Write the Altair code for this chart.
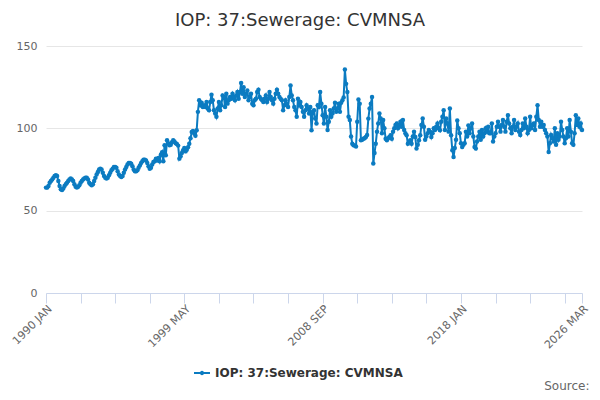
import altair as alt
import pandas as pd

series_name = "IOP: 37:Sewerage: CVMNSA"
month_names = ["JAN", "FEB", "MAR", "APR", "MAY", "JUN",
               "JUL", "AUG", "SEP", "OCT", "NOV", "DEC"]

# monthly index values, one row per year
values_1990s = [
    64, 64, 65, 67, 68, 69, 70, 71, 71.5, 71, 68, 65,
    63, 62.5, 63.5, 65, 66, 67, 68, 69, 69.5, 69, 68, 66,
    64.5, 64, 64.5, 65.5, 67, 68, 69, 69.5, 70, 70, 69, 67,
    66, 65.5, 66, 68, 70, 72, 73.5, 75, 75.5, 75, 73, 71,
    70, 69.5, 70, 71.5, 73, 74.5, 75.5, 76.5, 76.5, 76, 74, 72,
    71, 70.5, 71, 73, 75, 76.5, 78, 79, 79, 78.5, 77, 75,
    74, 74, 74.5, 76, 77.5, 79, 80, 81, 81, 80.5, 79, 77,
    75.5, 76, 78, 79.5, 80, 81.5, 80.5, 82, 80, 84, 85.5, 80,
    89.7, 83.6, 92.7, 91, 89.7, 90, 91.5, 92.7, 92, 91, 90.5, 89.5,
    81.6, 83, 85, 86.7, 88, 86, 87, 88.5, 90.7, 94, 97.8, 98.4,
]
values_2000s = [
    96.8, 95.5, 98.8, 110, 117, 114, 115.5, 113, 114, 113, 116, 112,
    111, 116, 120.4, 117, 111, 109, 107, 112, 116, 111, 114, 120,
    119, 113, 121, 115, 117, 119, 118, 121, 119, 117, 120, 122,
    118, 122, 127.5, 121, 125, 119, 121, 123, 117, 119, 121, 115,
    114, 117, 118, 122, 123.4, 119, 118, 117, 116, 118, 120, 116,
    118, 122, 119, 117, 115, 118, 121, 123.4, 121, 119, 118, 117,
    111, 114, 117, 115, 113, 119, 126, 120, 117, 113, 111, 107,
    118, 114, 116, 113, 110, 107, 111, 114, 112, 109, 113, 98.8,
    110, 111, 106, 103, 114, 113, 122, 115, 108, 103, 113, 107,
    99, 104, 111, 107, 109, 112, 115.6, 110, 112, 115, 110, 115.6,
]
values_2010s = [
    117, 118.8, 135.7, 127, 122, 107, 105, 95, 90.7, 89.7, 89.5, 89,
    104, 117.5, 115, 92.7, 93, 93.7, 94, 94.7, 96, 105.9, 112, 115,
    119, 78.6, 85, 90.7, 98, 103, 109, 106, 97, 105, 100, 93.7,
    92.7, 94, 94.7, 95.8, 93.7, 98, 100, 102, 103, 100, 102, 104,
    101, 105, 99, 97, 95.8, 90.7, 92, 92.7, 90.7, 95, 98, 94.7,
    87.7, 90, 92.7, 95.8, 102, 106, 101, 93, 95, 97, 99, 98,
    94.7, 97, 100, 99, 101, 103, 100, 98.8, 104, 107, 111, 99,
    106, 103, 98, 112, 95.8, 86.7, 82.6, 88, 93, 104.8, 100, 97,
    91, 88.7, 90, 91, 98, 95, 101.8, 97, 100, 103, 95, 88.7,
    87.7, 92, 95, 98, 93, 99, 95, 97, 100, 98, 101, 97,
]
values_2020s = [
    97, 103, 92, 95, 97, 101, 104, 101, 98, 102, 105, 101,
    98, 104, 108, 103, 100, 97, 101, 105, 99, 101, 103, 98,
    96, 99, 103, 100, 106, 101, 97, 99, 107, 100, 102, 103,
    99, 107, 114, 105, 101, 104, 101, 102, 99, 97, 95, 85.6,
    91, 96, 94, 92, 100, 90, 97, 93, 95, 104, 99, 95,
    91, 94, 100, 95, 105, 98, 91, 90, 97, 108, 102, 106,
    101, 103, 99,
]

values = values_1990s + values_2000s + values_2010s + values_2020s
periods = [f"{1990 + i // 12} {month_names[i % 12]}" for i in range(len(values))]

df = pd.DataFrame({
    "idx": range(len(values)),
    "period": periods,
    "value": values,
    "series": series_name,
})

last = len(values) - 1
tick_values = list(range(0, last, 28)) + [last]
label_ticks = [0, 112, 224, 336, last]
label_expr = " : ".join(f"datum.value == {t} ? '{periods[t]}'" for t in label_ticks) + " : ''"

blue = "#0b7bc1"
legend_symbol = "M-1,0H1M-0.15,0a0.15,0.15 0 1,0 0.3,0a0.15,0.15 0 1,0 -0.3,0"

chart = alt.Chart(df).mark_line(
    strokeWidth=2,
    point=alt.OverlayMarkDef(filled=True, size=20, color=blue),
).encode(
    x=alt.X("idx:Q",
            scale=alt.Scale(domain=[0, last], nice=False, zero=False),
            axis=alt.Axis(values=tick_values, labelExpr=label_expr, labelAngle=-45,
                          labelAlign="right", labelBaseline="middle", labelPadding=4,
                          labelOffset=4,
                          labelColor="#666666", labelFontSize=11, labelFlush=False,
                          labelOverlap=False, grid=False, domainColor="#ccd6eb",
                          tickColor="#ccd6eb", tickSize=10,
                          title="Source:", titleAnchor="end", titleAlign="right",
                          titleX=543, titleY=96, titleBaseline="alphabetic",
                          titleFontWeight="normal", titleFontSize=12,
                          titleColor="#666666")),
    y=alt.Y("value:Q",
            scale=alt.Scale(domain=[0, 150], nice=False),
            axis=alt.Axis(values=[0, 50, 100, 150], title=None, domain=False,
                          ticks=False, labelPadding=9, labelColor="#666666",
                          labelFontSize=11, gridColor="#e6e6e6")),
    color=alt.Color("series:N", scale=alt.Scale(range=[blue]),
                    legend=alt.Legend(title=None, orient="none", legendX=147,
                                      legendY=318, symbolType=legend_symbol,
                                      symbolSize=256, symbolStrokeWidth=2,
                                      symbolFillColor=blue, symbolStrokeColor=blue,
                                      labelFontSize=12, labelFontWeight="bold",
                                      labelColor="#333333", labelLimit=400)),
    tooltip=["period:N", "value:Q"],
).properties(
    title=alt.TitleParams(series_name, fontSize=18, fontWeight="normal",
                          color="#333333", anchor="middle", dx=-14, offset=10),
    width=536, height=247,
    autosize="none",
    padding={"left": 38, "top": 38, "right": 10, "bottom": 99},
).configure(
    font="DejaVu Sans",
).configure_view(
    strokeWidth=0,
)

chart.save("out.html", embed_options={"renderer": "svg", "actions": False})
